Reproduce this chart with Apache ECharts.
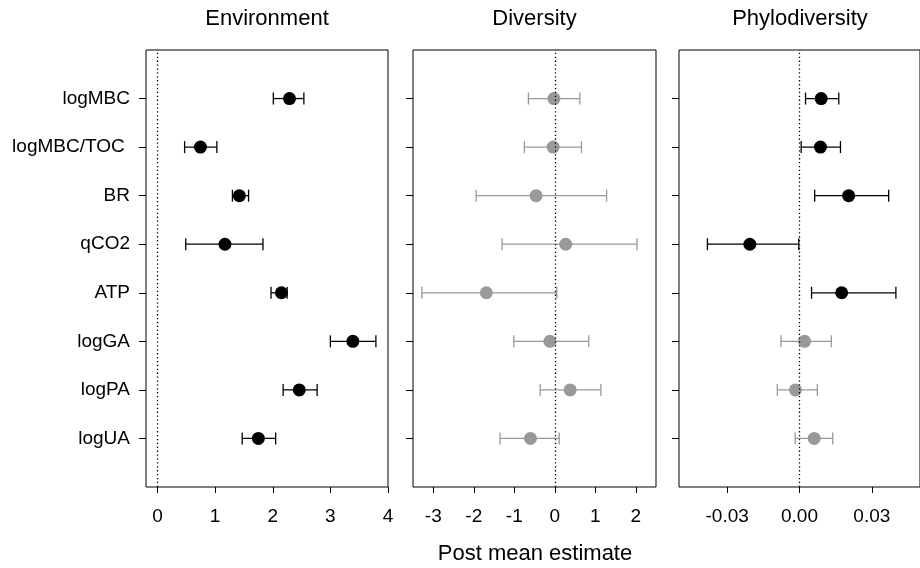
<!DOCTYPE html>
<html>
<head>
<meta charset="utf-8">
<script src="https://cdn.jsdelivr.net/npm/echarts@6/dist/echarts.min.js"></script>
<style>
  html, body { margin: 0; padding: 0; background: #fff; }
  #chart { width: 920px; height: 568px; }
</style>
</head>
<body>
<div id="chart"></div>
<script>
/* ---------- data ---------- */
const categories = ["logMBC", "logMBC/TOC ", "BR", "qCO2", "ATP", "logGA", "logPA", "logUA"];
const panelTitles = ["Environment", "Diversity", "Phylodiversity"];
const xTitle = "Post mean estimate";

const envMean = [2.29, 0.745, 1.42, 1.17, 2.15, 3.39, 2.46, 1.75];
const envLow  = [2.01, 0.47, 1.30, 0.49, 1.97, 3.00, 2.18, 1.47];
const envHigh = [2.54, 1.03, 1.58, 1.83, 2.25, 3.79, 2.77, 2.05];
const envSig  = [true, true, true, true, true, true, true, true];

const divMean = [-0.02, -0.04, -0.46, 0.27, -1.69, -0.12, 0.38, -0.60];
const divLow  = [-0.65, -0.75, -1.94, -1.30, -3.28, -1.01, -0.36, -1.35];
const divHigh = [0.62, 0.66, 1.28, 2.03, 0.05, 0.84, 1.14, 0.11];
const divSig  = [false, false, false, false, false, false, false, false];

const phyMean = [0.0090, 0.0087, 0.0204, -0.0206, 0.0175, 0.0021, -0.0017, 0.0061];
const phyLow  = [0.0025, 0.0007, 0.0063, -0.0382, 0.0050, -0.0077, -0.0092, -0.0018];
const phyHigh = [0.0163, 0.0170, 0.0370, -0.0003, 0.0400, 0.0132, 0.0074, 0.0138];
const phySig  = [true, true, true, true, true, false, false, false];

const envTicks = [0, 1, 2, 3, 4];
const divTicks = [-3, -2, -1, 0, 1, 2];
const phyTicks = [-0.03, 0, 0.03];

/* ---------- layout ---------- */
const FONT = "'Liberation Sans', Arial, Helvetica, sans-serif";
const BLACK = "#000000";
const GREY = "#999999";
const rowTicks = [1, 2, 3, 4, 5, 6, 7, 8];

const panels = [
  { mean: envMean, low: envLow, high: envHigh, sig: envSig, ticks: envTicks,
    min: -0.2, max: 4.0, left: 146, width: 242, fmt: (v) => String(v) },
  { mean: divMean, low: divLow, high: divHigh, sig: divSig, ticks: divTicks,
    min: -3.5, max: 2.5, left: 413, width: 243, fmt: (v) => String(v) },
  { mean: phyMean, low: phyLow, high: phyHigh, sig: phySig, ticks: phyTicks,
    min: -0.05, max: 0.05, left: 679, width: 242, fmt: (v) => v.toFixed(2) },
];

const rowOf = (i) => categories.length - i;   // logMBC on top

const grid = [], xAxis = [], yAxis = [], series = [], graphic = [];

panels.forEach((p, k) => {
  grid.push({ left: p.left, width: p.width, top: 50, height: 437,
              show: true, borderColor: BLACK, borderWidth: 1 });

  xAxis.push({
    type: "value", gridIndex: k, min: p.min, max: p.max,
    axisLine: { show: false, onZero: false },
    splitLine: { show: false },
    axisTick: { show: true, length: 6, customValues: p.ticks,
                lineStyle: { color: BLACK, width: 1 } },
    axisLabel: { show: true, customValues: p.ticks, margin: 20,
                 color: BLACK, fontSize: 19, fontFamily: FONT,
                 formatter: p.fmt },
  });

  yAxis.push({
    type: "value", gridIndex: k, min: 0, max: 9,
    axisLine: { show: false, onZero: false },
    splitLine: { show: false },
    axisTick: { show: true, length: 7, customValues: rowTicks,
                lineStyle: { color: BLACK, width: 1 } },
    axisLabel: { show: k === 0, customValues: rowTicks, margin: 16,
                 color: BLACK, fontSize: 19, fontFamily: FONT,
                 formatter: (v) => categories[categories.length - v] },
  });

  // error bars
  const sig = p.sig;
  series.push({
    type: "custom", xAxisIndex: k, yAxisIndex: k, z: 2,
    encode: { x: [0, 2], y: 1 },
    data: p.mean.map((m, i) => [p.low[i], rowOf(i), p.high[i]]),
    renderItem: (params, api) => {
      const y = api.value(1);
      const a = api.coord([api.value(0), y]);
      const b = api.coord([api.value(2), y]);
      const style = { stroke: sig[params.dataIndex] ? BLACK : GREY, lineWidth: 1.3 };
      return {
        type: "group",
        children: [
          { type: "line", shape: { x1: a[0], y1: a[1], x2: b[0], y2: b[1] }, style },
          { type: "line", shape: { x1: a[0], y1: a[1] - 6, x2: a[0], y2: a[1] + 6 }, style },
          { type: "line", shape: { x1: b[0], y1: b[1] - 6, x2: b[0], y2: b[1] + 6 }, style },
        ],
      };
    },
    markLine: {
      silent: true, symbol: "none", label: { show: false },
      lineStyle: { type: [1.3, 2.6], color: BLACK, width: 1.3 },
      data: [{ xAxis: 0 }],
    },
  });

  // posterior means
  series.push({
    type: "scatter", xAxisIndex: k, yAxisIndex: k, z: 3,
    symbol: "circle", symbolSize: 13,
    data: p.mean.map((m, i) => ({
      value: [m, rowOf(i)],
      itemStyle: { color: p.sig[i] ? BLACK : GREY, opacity: 1 },
    })),
  });

  graphic.push({
    type: "text", x: p.left + p.width / 2, y: 19,
    style: { text: panelTitles[k], fill: BLACK, font: `22px ${FONT}`,
             align: "center", verticalAlign: "middle" },
  });
});

graphic.push({
  type: "text", x: 535, y: 554,
  style: { text: xTitle, fill: BLACK, font: `22px ${FONT}`,
           align: "center", verticalAlign: "middle" },
});

const chart = echarts.init(document.getElementById("chart"), null, { renderer: "canvas" });
chart.setOption({
  animation: false,
  backgroundColor: "#ffffff",
  grid, xAxis, yAxis, series, graphic,
});
window.addEventListener("resize", () => chart.resize());
</script>
</body>
</html>
